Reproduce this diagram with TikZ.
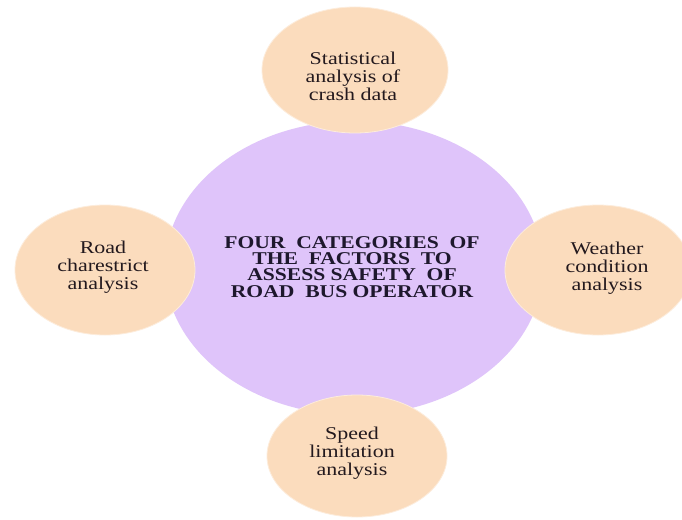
\documentclass[tikz,border=0pt]{standalone}
\usepackage{fontspec}
\setmainfont{Liberation Serif}
\usetikzlibrary{shapes.geometric}
\definecolor{peach}{RGB}{251,220,189}
\definecolor{lilac}{RGB}{223,196,250}
\definecolor{ink}{RGB}{35,25,30}
\definecolor{hubink}{RGB}{30,24,45}
\newcommand{\widetext}[2]{\scalebox{#1}[1]{\begin{tabular}{@{}c@{}}#2\end{tabular}}}
\tikzset{
  bubble/.style={ellipse, fill=peach, draw=peach!55!white, line width=0.8pt, inner sep=0pt},
  hub/.style={ellipse, fill=lilac, inner sep=0pt},
  bubbletext/.style={inner sep=0pt, text=ink, font=\fontsize{18}{17.5}\selectfont},
  hubtext/.style={inner sep=0pt, text=hubink, font=\bfseries\fontsize{18}{15}\selectfont}
}
\begin{document}
\begin{tikzpicture}[x=1pt,y=-1pt]
\useasboundingbox (0,0) rectangle (682,519);
\fill[white] (0,0) rectangle (682,519);
\node[hub, minimum width=378pt, minimum height=294pt] (hub) at (354,268) {};
\node[bubble, minimum width=186pt, minimum height=126pt] (stat) at (355,70) {};
\node[bubble, minimum width=180pt, minimum height=130pt] (road) at (105,270) {};
\node[bubble, minimum width=186pt, minimum height=130pt] (weather) at (598,270) {};
\node[bubble, minimum width=180pt, minimum height=122pt] (speed) at (357,456) {};
\node[hubtext] (hubt) at (352,269) {\widetext{1.2}{FOUR\ \ CATEGORIES\ \ OF\\THE\ \ FACTORS\ \ TO\\ASSESS SAFETY\ \ OF\\ROAD\ \ BUS OPERATOR}};
\node[bubbletext] (statt) at (353,79) {\widetext{1.22}{Statistical\\analysis of\\crash data}};
\node[bubbletext] (roadt) at (103,268) {\widetext{1.22}{Road\\charestrict\\analysis}};
\node[bubbletext] (weathert) at (607,269) {\widetext{1.22}{Weather\\condition\\analysis}};
\node[bubbletext] (speedt) at (352,454) {\widetext{1.22}{Speed\\limitation\\analysis}};
\end{tikzpicture}
\end{document}
